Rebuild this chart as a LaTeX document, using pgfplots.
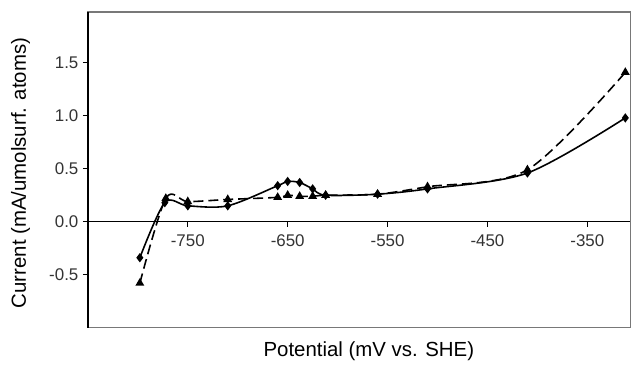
\documentclass[border=0pt]{standalone}
\usepackage{pgfplots}
\pgfplotsset{compat=1.18}
\usepackage{fontspec}
\setmainfont{Liberation Sans}
\definecolor{framegray}{RGB}{120,120,120}
\begin{document}
\begin{tikzpicture}
\begin{axis}[
  at={(0,0)}, anchor=south west,
  scale only axis,
  width=543bp, height=316bp,
  xmin=-850, xmax=-307,
  ymin=-1.0, ymax=1.98,
  xtick=\empty, ytick=\empty,
  axis line style={framegray, line width=1.4pt},
]
\addplot[draw=none, mark=none, forget plot] coordinates {(-800,0) (-400,0)};
\end{axis}
\begin{axis}[
  at={(0,0)}, anchor=south west,
  scale only axis,
  width=543bp, height=316bp,
  xmin=-850, xmax=-307,
  ymin=-1.0, ymax=1.98,
  axis x line=middle, axis y line=left,
  axis line style={-, black, line width=1.3pt},
  tick align=outside,
  major tick length=5bp,
  tick style={black, line width=1.1pt},
  xtick={-750,-650,-550,-450,-350},
  xticklabels={-750,-650,-550,-450,-350},
  ytick={-0.5,0,0.5,1.0,1.5},
  yticklabels={-0.5,0.0,0.5,1.0,1.5},
  ticklabel style={font=\fontsize{17}{19}\selectfont, text=black!80},
  xticklabel style={yshift=-4bp},
  yticklabel style={xshift=-1bp},
  xlabel={Potential (mV vs. SHE)},
  xlabel style={font=\fontsize{20.5}{23}\selectfont, at={(axis description cs:0.518,0)}, anchor=center, yshift=-24bp},
  ylabel={Current (mA/umolsurf. atoms)},
  ylabel style={font=\fontsize{20.5}{23}\selectfont, at={(axis description cs:-0.124,0.49)}, anchor=center},
  clip=false,
]
\addplot[black, line width=1.6pt, smooth, tension=0.5, mark=diamond*, mark size=3.4pt, mark options={solid}] coordinates {
(-798,-0.34) (-773,0.18) (-750,0.15) (-710,0.15) (-660,0.34) (-650,0.38) (-638,0.37) (-625,0.31) (-612,0.25) (-560,0.26) (-510,0.31) (-410,0.46) (-312,0.98)
};
\addplot[black, line width=1.6pt, dash pattern=on 10bp off 5bp, smooth, tension=0.5, mark=triangle*, mark size=3.6pt, mark options={solid}] coordinates {
(-798,-0.58) (-772,0.22) (-750,0.19) (-710,0.21) (-660,0.23) (-650,0.25) (-638,0.24) (-625,0.24) (-612,0.25) (-560,0.26) (-510,0.33) (-410,0.49) (-312,1.41)
};
\end{axis}
\useasboundingbox (-88bp,-35bp) rectangle (543.5bp,328bp);
\end{tikzpicture}
\end{document}
